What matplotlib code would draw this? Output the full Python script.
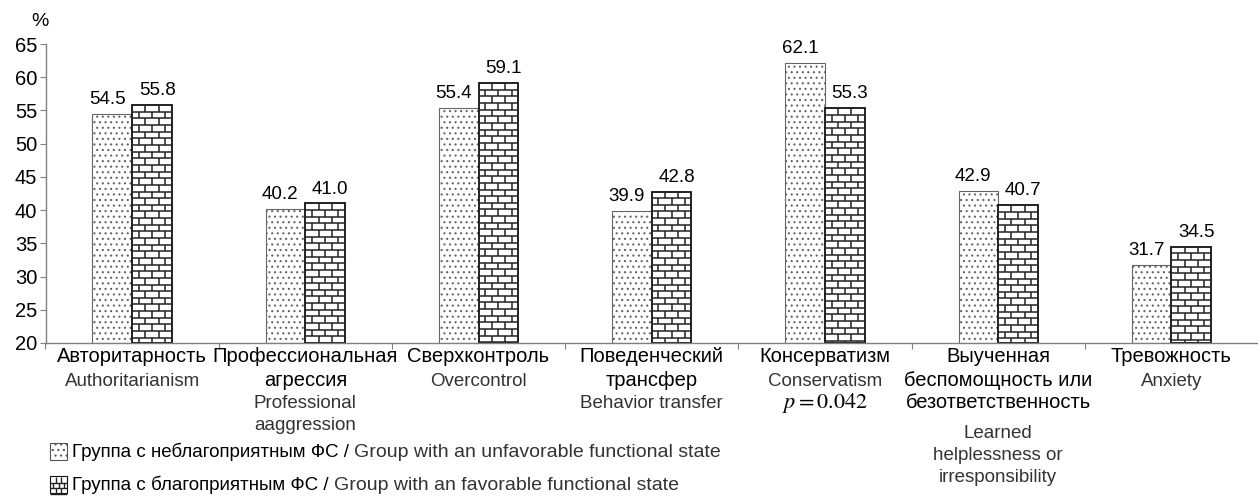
import numpy as np
import matplotlib
matplotlib.use("Agg")
import matplotlib.pyplot as plt
import matplotlib.transforms as mtransforms
from matplotlib.patches import Rectangle
from matplotlib.collections import LineCollection
from matplotlib import font_manager

plt.rcParams['font.family'] = ['Liberation Sans', 'DejaVu Sans']
plt.rcParams['mathtext.fontset'] = 'stix'
plt.rcParams['hatch.color'] = '#444444'
plt.rcParams['hatch.linewidth'] = 0.8

try:
    font_manager.findfont('Liberation Sans Narrow', fallback_to_default=False)
    narrow = ['Liberation Sans Narrow', 'Liberation Sans']
    narrow_ok = True
except Exception:
    narrow = ['Liberation Sans', 'DejaVu Sans']
    narrow_ok = False

# data
labels_ru = [["Авторитарность"], ["Профессиональная", "агрессия"], ["Сверхконтроль"],
             ["Поведенческий", "трансфер"], ["Консерватизм"],
             ["Выученная", "беспомощность или", "безответственность"], ["Тревожность"]]
labels_en = [["Authoritarianism"], ["Professional", "aaggression"], ["Overcontrol"],
             ["Behavior transfer"], ["Conservatism", "$p = 0.042$"],
             ["Learned", "helplessness or", "irresponsibility"], ["Anxiety"]]
unfav = [54.5, 40.2, 55.4, 39.9, 62.1, 42.9, 31.7]
fav = [55.8, 41.0, 59.1, 42.8, 55.3, 40.7, 34.5]
legend_ru = ["Группа с неблагоприятным ФС / ", "Группа с благоприятным ФС / "]
legend_en = ["Group with an unfavorable functional state",
             "Group with an favorable functional state"]

W, H = 1258, 503
fig = plt.figure(figsize=(W / 100, H / 100), dpi=100)
ax_l, ax_b, ax_t = 45.5, 343, 44
ax = fig.add_axes([ax_l / W, 1 - ax_b / H, (W - ax_l) / W, (ax_b - ax_t) / H])

n = len(unfav)
x = np.arange(n)
cat_px = 174.7
bw = 40 / cat_px
base = 20

ax.bar(x - bw / 2, np.array(unfav) - base, bw, bottom=base,
       color='white', edgecolor='#666666', linewidth=0.8, hatch='...')
ax.bar(x + bw / 2, np.array(fav) - base, bw, bottom=base,
       color='white', edgecolor='#111111', linewidth=1.3)

# brick pattern inside the favourable bars
row_h = 1.0
segs = []
for xi, v in zip(x, fav):
    x0 = xi
    x1 = x0 + bw
    brick = bw / 3
    y = v
    k = 0
    while y > base:
        y2 = max(y - row_h, base)
        segs.append([(x0, y2), (x1, y2)])
        start = x0 + (brick if k % 2 == 0 else brick / 2)
        xv = start
        while xv < x1 - 1e-6:
            segs.append([(xv, y), (xv, y2)])
            xv += brick
        y = y2
        k += 1
ax.add_collection(LineCollection(segs, colors='#222222', linewidths=1.1))

for xi, a, b in zip(x, unfav, fav):
    ax.text(xi - bw / 2 - 0.03, a + 1.5, f"{a:.1f}", ha='center', va='baseline', fontsize=13.5)
    ax.text(xi + bw / 2 + 0.03, b + 1.5, f"{b:.1f}", ha='center', va='baseline', fontsize=13.5)

ax.set_xlim(-0.5, -0.5 + (W - ax_l) / cat_px)
ax.set_ylim(20, 65)
ax.set_yticks(np.arange(20, 66, 5))
ax.set_xticks(np.arange(n + 1) - 0.5)
ax.set_xticklabels([])
ax.tick_params(axis='y', labelsize=14.5, length=4, color='#808080', pad=2)
ax.tick_params(axis='x', length=4, color='#808080')
for s in ['top', 'right']:
    ax.spines[s].set_visible(False)
for s in ['left', 'bottom']:
    ax.spines[s].set_color('#808080')
    ax.spines[s].set_linewidth(1.0)

fig.text(40 / W, 1 - 22 / H, "%", fontsize=14, va='center', ha='center')

# category labels, one text per line
tr = mtransforms.blended_transform_factory(ax.transData, fig.transFigure)
for i in range(n):
    yy = 357
    for j, line in enumerate(labels_ru[i]):
        ax.text(i, 1 - yy / H, line, transform=tr, ha='center', va='center', fontsize=14.5)
        yy += 23
    yy += 1 if len(labels_ru[i]) < 3 else 7
    for j, line in enumerate(labels_en[i]):
        fs = 16 if line.startswith('$') else 13.5
        ax.text(i, 1 - yy / H, line, transform=tr, ha='center', va='center',
                fontsize=fs, color='#333333' if not line.startswith('$') else 'black')
        yy += 22

# legend
for j in range(2):
    yc = 452 + j * 33
    r = Rectangle((50 / W, 1 - (yc + 8) / H), 17 / W, 17 / H, transform=fig.transFigure,
                  facecolor='white', edgecolor='#555555' if j == 0 else '#111111',
                  linewidth=0.8, hatch='...' if j == 0 else None)
    fig.patches.append(r)
    t1 = fig.text(72 / W, 1 - yc / H, legend_ru[j], fontsize=15.5 if narrow_ok else 13.5,
                  family=narrow, va='center')
    ax.annotate(legend_en[j], xy=(1, 0), xycoords=t1, va='bottom', ha='left',
                fontsize=14, color='#333333', annotation_clip=False)

# brick pattern on the second legend patch
lx0, lx1 = 50, 67
ly0 = 485 - 8
lsegs = []
for k in range(3):
    yy = ly0 + (k + 1) * 5.7
    lsegs.append([(lx0 / W, 1 - yy / H), (lx1 / W, 1 - yy / H)])
    for xv in ([55.7, 61.3] if k % 2 == 0 else [52.8, 58.5, 64.2]):
        lsegs.append([(xv / W, 1 - (yy - 5.7) / H), (xv / W, 1 - yy / H)])
fig.add_artist(LineCollection(lsegs, colors='#222222', linewidths=1.0,
                              transform=fig.transFigure))

fig.savefig("out.png", dpi=100)
